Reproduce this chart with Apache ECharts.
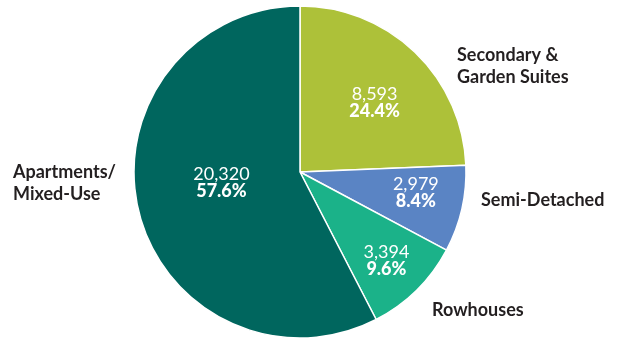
<!DOCTYPE html>
<html>
<head>
<meta charset="utf-8">
<script src="https://cdn.jsdelivr.net/npm/echarts@6/dist/echarts.min.js"></script>
<style>
  html, body { margin: 0; padding: 0; background: #ffffff; }
  #chart { width: 618px; height: 339px; }
</style>
</head>
<body>
<div id="chart"></div>
<script>
// Housing units by type
const categories = ['Secondary &\nGarden Suites', 'Semi-Detached', 'Rowhouses', 'Apartments/\nMixed-Use'];
const units = [8593, 2979, 3394, 20320];
const colors = ['#adc139', '#5a84c4', '#1bb289', '#00665e'];

// Nudges for the in-slice value labels
const innerShift = [[15, -7], [32, 2], [26, 27], [5, -10]];
// Left edges / vertical centres of the category names around the pie
const outerAnchor = [
  { x: 457, y: 66 },
  { x: 481, y: 200 },
  { x: 432, y: 310 },
  { x: 13, y: 183 }
];

const FONT = 'Lato, "Open Sans", sans-serif';
const data = categories.map((name, i) => ({ name, value: units[i], itemStyle: { color: colors[i] } }));

const chart = echarts.init(document.getElementById('chart'), null, { renderer: 'canvas' });
chart.setOption({
  animation: false,
  series: [
    {
      type: 'pie',
      center: [300, 172],
      radius: [0, 166],
      startAngle: 90,
      clockwise: true,
      silent: true,
      itemStyle: { borderColor: '#ffffff', borderWidth: 1.5 },
      label: {
        position: 'inside',
        formatter: p => '{v|' + p.value.toLocaleString('en-US') + '}\n{p|' + p.percent.toFixed(1) + '%}',
        rich: {
          v: { color: '#ffffff', fontFamily: FONT, fontSize: 18, fontWeight: 400, lineHeight: 17 },
          p: { color: '#ffffff', fontFamily: FONT, fontSize: 18, fontWeight: 900, lineHeight: 17 }
        }
      },
      labelLine: { show: false },
      labelLayout: p => ({ dx: innerShift[p.dataIndex][0], dy: innerShift[p.dataIndex][1] }),
      data: data
    },
    {
      type: 'pie',
      center: [300, 172],
      radius: [0, 166],
      startAngle: 90,
      clockwise: true,
      silent: true,
      itemStyle: { color: 'rgba(0,0,0,0)' },
      label: {
        position: 'outside',
        alignTo: 'none',
        overflow: 'none',
        formatter: '{b}',
        color: '#231f20',
        fontFamily: FONT,
        fontSize: 18,
        fontWeight: 'bold',
        lineHeight: 22,
        align: 'left'
      },
      labelLine: { show: false },
      labelLayout: p => ({
        x: outerAnchor[p.dataIndex].x,
        y: outerAnchor[p.dataIndex].y,
        align: 'left',
        verticalAlign: 'middle',
        width: 200
      }),
      data: data.map(d => ({ name: d.name, value: d.value }))
    }
  ]
});
</script>
</body>
</html>
